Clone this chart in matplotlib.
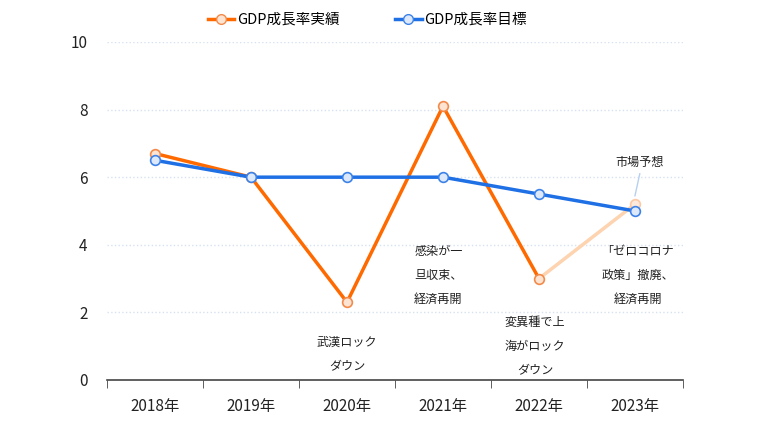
import matplotlib.pyplot as plt
from matplotlib.lines import Line2D

plt.rcParams['font.family'] = ['Noto Sans CJK JP', 'DejaVu Sans']

years = ['2018年', '2019年', '2020年', '2021年', '2022年', '2023年']
actual = [6.7, 6.0, 2.3, 8.1, 3.0]
forecast_2023 = 5.2
target = [6.5, 6.0, 6.0, 6.0, 5.5, 5.0]

orange = '#ff6a00'
blue = '#1f6fe5'
txt = '#222222'

fig = plt.figure(figsize=(7.58, 4.40), dpi=100)
ax = fig.add_axes([0.1412, 0.1364, 0.7598, 0.7682])

x = list(range(len(years)))

ax.plot(x[:5], actual, color=orange, lw=2.5, marker='o', ms=7,
        mfc='#fde3d2', mec='#f28a4a', mew=1.2, zorder=3)
ax.plot(x[4:6], [actual[4], forecast_2023], color='#fdd3b0', lw=2.5, zorder=2)
ax.plot([x[5]], [forecast_2023], marker='o', ms=7, color='none',
        mfc='#fde9dc', mec='#fbc9a6', mew=1.2, zorder=2)
ax.plot(x, target, color=blue, lw=2.5, marker='o', ms=7,
        mfc='#dde9fa', mec='#3d82e8', mew=1.2, zorder=4)

# annotations
fs = 8.7
ax.text(2, 1.3, '武漢ロック\nダウン', ha='center', va='top', fontsize=fs,
        linespacing=2.1, color=txt)
ax.text(2.7, 4.0, '感染が一\n旦収束、\n経済再開', ha='left', va='top', fontsize=fs,
        linespacing=2.1, color=txt)
ax.text(3.96, 1.9, '変異種で上\n海がロック\nダウン', ha='center', va='top', fontsize=fs,
        linespacing=2.1, color=txt)
ax.text(5.03, 4.0, '「ゼロコロナ\n政策」撤廃、\n経済再開', ha='center', va='top', fontsize=fs,
        linespacing=2.1, color=txt)
ax.text(5.05, 6.45, '市場予想', ha='center', va='center', fontsize=fs, color=txt)
ax.plot([5.05, 5.0], [6.1, 5.45], color='#b8d0f0', lw=1, zorder=1)

ax.set_xlim(-0.5, 5.5)
ax.set_ylim(0, 10)
ax.set_yticks([0, 2, 4, 6, 8, 10])
ax.set_xticks(x)
ax.set_xticklabels(years)
ax.set_xticks([i - 0.5 for i in range(len(years) + 1)], minor=True)
ax.tick_params(axis='x', which='major', length=0, pad=13, labelsize=11, colors=txt)
ax.tick_params(axis='x', which='minor', length=6, direction='out', color='#444444')
ax.tick_params(axis='y', length=0, pad=14, labelsize=11, colors=txt)

for v in [2, 4, 6, 8, 10]:
    ax.axhline(v, color='#d6e2f0', lw=1, ls=':', zorder=0)

for s in ['top', 'right', 'left']:
    ax.spines[s].set_visible(False)
ax.spines['bottom'].set_color('#444444')
ax.spines['bottom'].set_linewidth(1.2)

handles = [
    Line2D([], [], color=orange, lw=2.5, marker='o', ms=7, mfc='#fde3d2', mec='#f28a4a'),
    Line2D([], [], color=blue, lw=2.5, marker='o', ms=7, mfc='#dde9fa', mec='#3d82e8'),
]
fig.legend(handles, ['GDP成長率実績', 'GDP成長率目標'], loc='center',
           bbox_to_anchor=(0.485, 0.955), ncol=2, frameon=False, fontsize=10.5,
           handlelength=1.8, handletextpad=0.2, columnspacing=3.8)

fig.savefig('out.png', dpi=100)
